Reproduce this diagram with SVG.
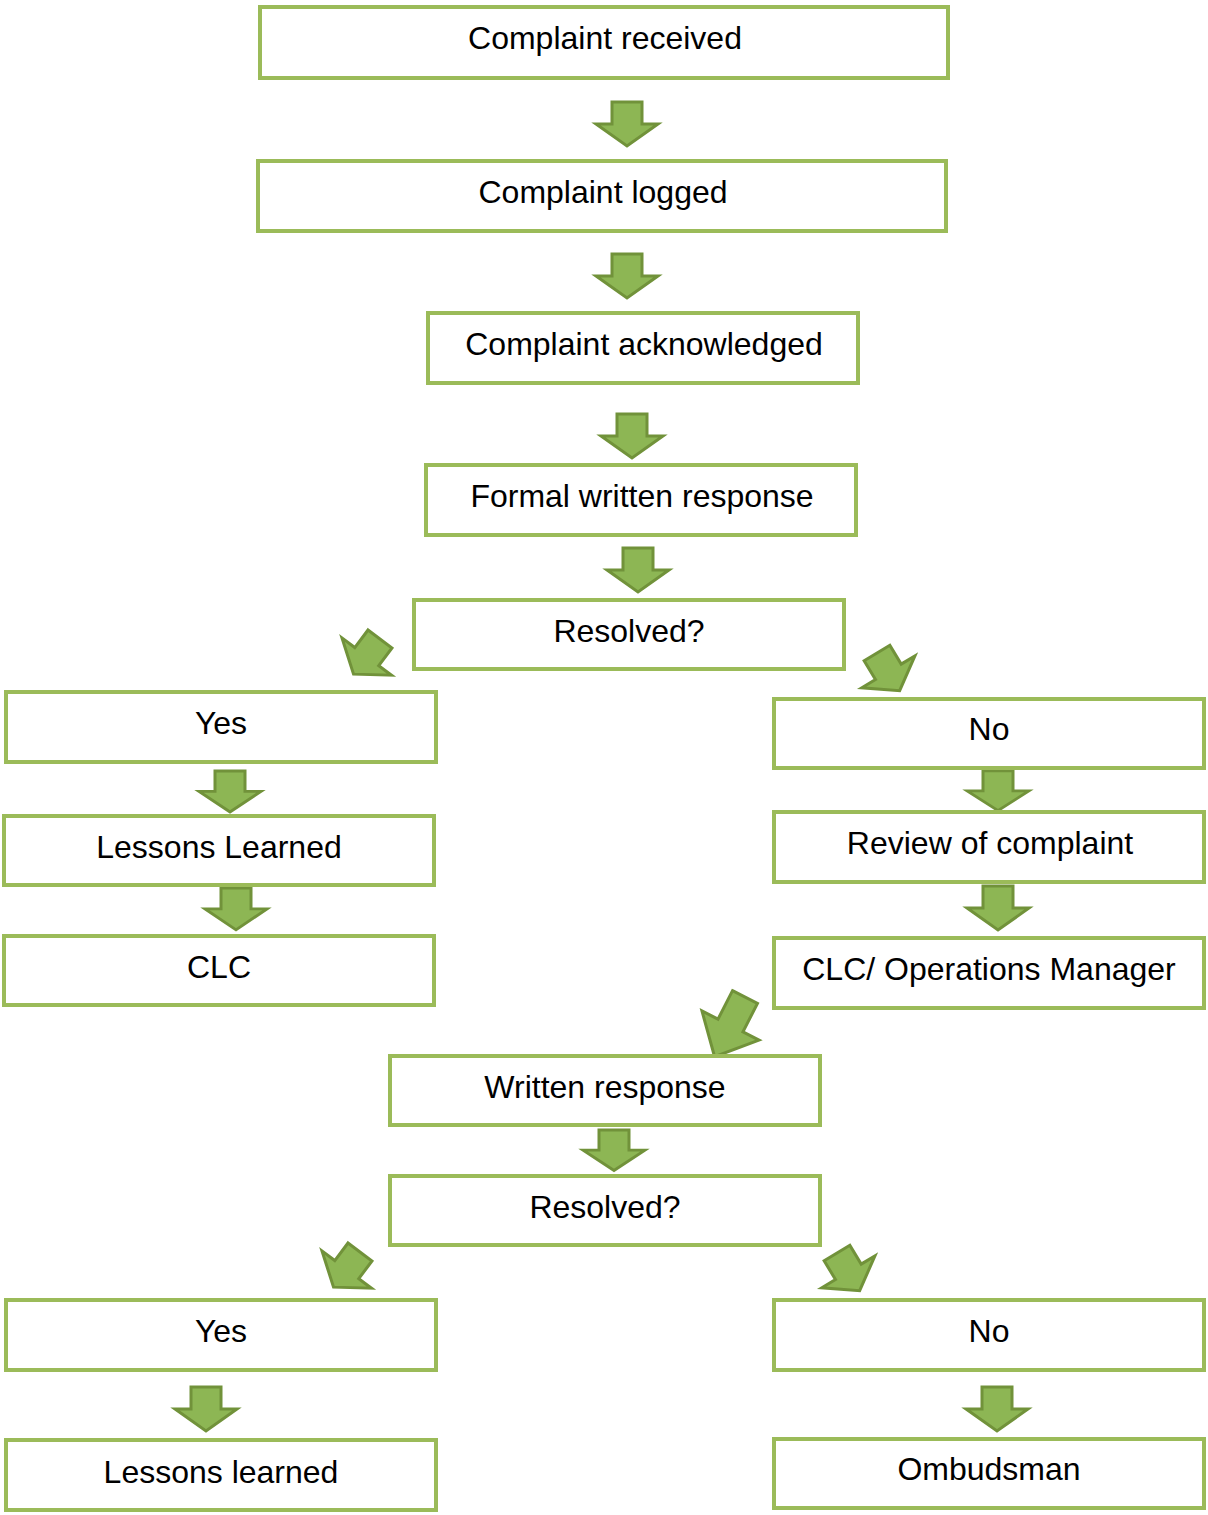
<svg xmlns="http://www.w3.org/2000/svg" width="1208" height="1515" viewBox="0 0 1208 1515">
<style>
.box{fill:#fff;stroke:#9BBB59;stroke-width:4}
.t{font-family:"Liberation Sans",Arial,sans-serif;font-size:32px;fill:#000;text-anchor:middle}
.arr{fill:#8DB654;stroke:#71923A;stroke-width:3;stroke-linejoin:miter}
</style>
<defs>
<path id="ar" d="M-15,0 L15,0 L15,22 L31,22 L0,44 L-31,22 L-15,22 Z"/>
</defs>
<rect width="1208" height="1515" fill="#fff"/>
<g id="connectors">
<use href="#ar" class="arr" transform="translate(627,102)"/>
<use href="#ar" class="arr" transform="translate(627,254)"/>
<use href="#ar" class="arr" transform="translate(632,414)"/>
<use href="#ar" class="arr" transform="translate(638,548)"/>
<use href="#ar" class="arr" transform="translate(380,639) rotate(37)"/>
<use href="#ar" class="arr" transform="translate(877,653) rotate(-31)"/>
<use href="#ar" class="arr" transform="translate(230,771) scale(1,0.93)"/>
<use href="#ar" class="arr" transform="translate(236,888) scale(1,0.95)"/>
<use href="#ar" class="arr" transform="translate(998,771) scale(1,0.9)"/>
<use href="#ar" class="arr" transform="translate(998,886)"/>
<path class="arr" d="M-14,0 L14,0 L14,32 L32,32 L0,67 L-32,32 L-14,32 Z" transform="translate(745,997) rotate(27)"/>
<use href="#ar" class="arr" transform="translate(614,1130) scale(1,0.92)"/>
<use href="#ar" class="arr" transform="translate(360,1252) rotate(37)"/>
<use href="#ar" class="arr" transform="translate(837,1253) rotate(-31)"/>
<use href="#ar" class="arr" transform="translate(206,1387)"/>
<use href="#ar" class="arr" transform="translate(997,1387)"/>
</g>
<g id="n1"><rect class="box" x="260" y="7" width="688" height="71"/><text class="t" x="605" y="49">Complaint received</text></g>
<g id="n2"><rect class="box" x="258" y="161" width="688" height="70"/><text class="t" x="603" y="203">Complaint logged</text></g>
<g id="n3"><rect class="box" x="428" y="313" width="430" height="70"/><text class="t" x="644" y="355">Complaint acknowledged</text></g>
<g id="n4"><rect class="box" x="426" y="465" width="430" height="70"/><text class="t" x="642" y="507">Formal written response</text></g>
<g id="n5"><rect class="box" x="414" y="600" width="430" height="69"/><text class="t" x="629" y="642">Resolved?</text></g>
<g id="n6"><rect class="box" x="6" y="692" width="430" height="70"/><text class="t" x="221" y="734">Yes</text></g>
<g id="n7"><rect class="box" x="774" y="699" width="430" height="69"/><text class="t" x="989" y="740">No</text></g>
<g id="n8"><rect class="box" x="4" y="816" width="430" height="69"/><text class="t" x="219" y="858">Lessons Learned</text></g>
<g id="n9"><rect class="box" x="774" y="812" width="430" height="70"/><text class="t" x="990" y="854">Review of complaint</text></g>
<g id="n10"><rect class="box" x="4" y="936" width="430" height="69"/><text class="t" x="219" y="978">CLC</text></g>
<g id="n11"><rect class="box" x="774" y="938" width="430" height="70"/><text class="t" x="989" y="980">CLC/ Operations Manager</text></g>
<g id="n12"><rect class="box" x="390" y="1056" width="430" height="69"/><text class="t" x="605" y="1098">Written response</text></g>
<g id="n13"><rect class="box" x="390" y="1176" width="430" height="69"/><text class="t" x="605" y="1218">Resolved?</text></g>
<g id="n14"><rect class="box" x="6" y="1300" width="430" height="70"/><text class="t" x="221" y="1342">Yes</text></g>
<g id="n15"><rect class="box" x="774" y="1300" width="430" height="70"/><text class="t" x="989" y="1342">No</text></g>
<g id="n16"><rect class="box" x="6" y="1440" width="430" height="70"/><text class="t" x="221" y="1483">Lessons learned</text></g>
<g id="n17"><rect class="box" x="774" y="1439" width="430" height="69"/><text class="t" x="989" y="1480">Ombudsman</text></g>
</svg>
